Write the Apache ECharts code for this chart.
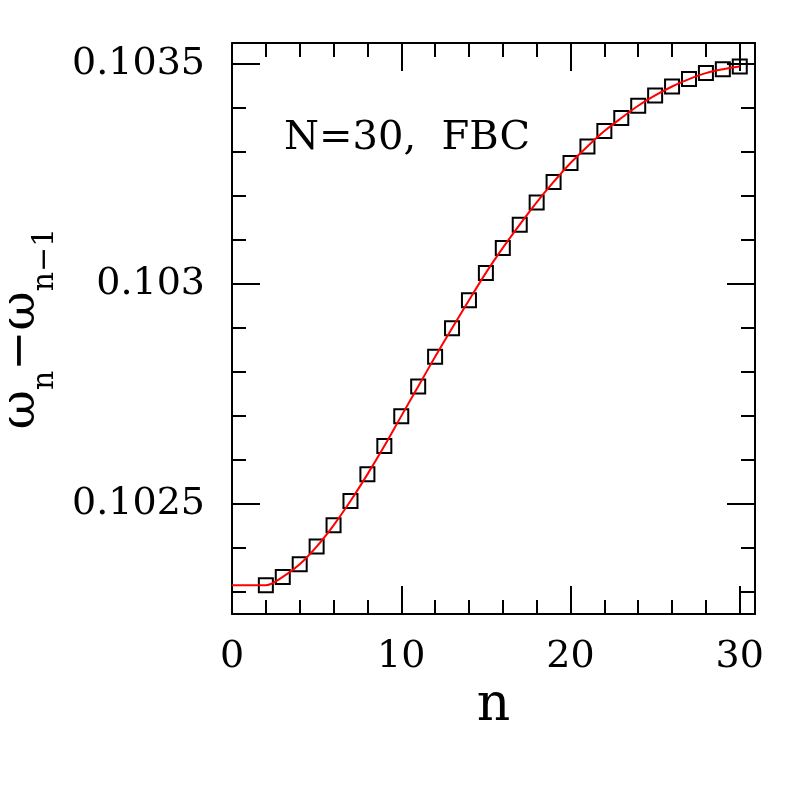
<!DOCTYPE html>
<html>
<head>
<meta charset="utf-8">
<script src="https://cdn.jsdelivr.net/npm/echarts@6/dist/echarts.min.js"></script>
<style>
html,body{margin:0;padding:0;background:#fff;}
#chart{width:797px;height:797px;}
</style>
</head>
<body>
<div id="chart"></div>
<script>
// ---- data ----
const nValues = [2,3,4,5,6,7,8,9,10,11,12,13,14,15,16,17,18,19,20,21,22,23,24,25,26,27,28,29,30];
const squareValues = [0.1023154,0.1023342,0.1023630,0.1024032,0.1024516,0.1025068,0.1025674,0.1026317,
  0.1026998,0.1027672,0.1028347,0.1028996,0.1029632,0.1030254,0.1030822,0.1031351,0.1031857,0.1032321,
  0.1032752,0.1033129,0.1033479,0.1033774,0.1034053,0.1034287,0.1034491,0.1034659,0.1034796,0.1034882,0.1034946];
const curveN = [0,1,2,3,4,5,6,7,8,9,10,11,12,13,14,15,16,17,18,19,20,21,22,23,24,25,26,27,28,29,30];
const curveValues = [0.1023154,0.1023154,0.1023154,0.1023342,0.1023630,0.1024032,0.1024516,0.1025068,0.1025674,0.1026317,
  0.1026998,0.1027672,0.1028347,0.1028996,0.1029632,0.1030254,0.1030822,0.1031351,0.1031857,0.1032321,
  0.1032752,0.1033129,0.1033479,0.1033774,0.1034053,0.1034287,0.1034491,0.1034659,0.1034796,0.1034882,0.1034946];
const xMajorTicks = [0,10,20,30];
const xMinorTicks = [2,4,6,8,12,14,16,18,22,24,26,28];
const yMajorTicks = [0.1025,0.103,0.1035];
const yMinorTicks = [0.1023,0.1024,0.1026,0.1027,0.1028,0.1029,0.1031,0.1032,0.1033,0.1034];
const annotation = 'N=30,  FBC';

const xMin = 0, xMax = 30.9, yMin = 0.10225, yMax = 0.103548;
const FONT = 'DejaVu Serif';
const BLACK = '#000';

function xAxisDef(pos, major, withLabels) {
  return {
    type: 'value', position: pos, min: xMin, max: xMax,
    axisLine: { show: major, onZero: false, lineStyle: { color: BLACK, width: 2 } },
    axisTick: { show: true, inside: true, length: major ? 28 : 14,
      customValues: major ? xMajorTicks.filter(v => v > 0) : xMinorTicks,
      lineStyle: { color: BLACK, width: 2 } },
    axisLabel: withLabels ? { show: true, customValues: xMajorTicks, margin: 24,
      fontFamily: FONT, fontSize: 38, color: '#000' } : { show: false },
    splitLine: { show: false }
  };
}
function yAxisDef(pos, major, withLabels) {
  return {
    type: 'value', position: pos, min: yMin, max: yMax,
    axisLine: { show: major, onZero: false, lineStyle: { color: BLACK, width: 2 } },
    axisTick: { show: true, inside: true, length: major ? 28 : 14,
      customValues: major ? yMajorTicks : yMinorTicks,
      lineStyle: { color: BLACK, width: 2 } },
    axisLabel: withLabels ? { show: true, customValues: yMajorTicks, margin: 27,
      fontFamily: FONT, fontSize: 38, color: '#000',
      formatter: v => String(+v.toFixed(4)) } : { show: false },
    splitLine: { show: false }
  };
}

const xAxes = [xAxisDef('bottom', true, true), xAxisDef('bottom', false, false),
               xAxisDef('top', true, false), xAxisDef('top', false, false)];
xAxes[0].name = 'n';
xAxes[0].nameLocation = 'middle';
xAxes[0].nameGap = 64;
xAxes[0].nameTextStyle = { fontFamily: FONT, fontSize: 52, color: '#000' };

const yAxes = [yAxisDef('left', true, true), yAxisDef('left', false, false),
               yAxisDef('right', true, false), yAxisDef('right', false, false)];
yAxes[0].name = '{w|ω}{s|n}{w|−ω}{s|n−1}';
yAxes[0].nameLocation = 'middle';
yAxes[0].nameRotate = 90;
yAxes[0].nameGap = 172;
yAxes[0].nameTextStyle = {
  fontFamily: FONT, color: '#000',
  rich: {
    w: { fontFamily: FONT, fontSize: 48, color: '#000', verticalAlign: 'bottom', padding: [0, 0, 14, 0] },
    s: { fontFamily: FONT, fontSize: 30, color: '#000', verticalAlign: 'bottom' }
  }
};

const chart = echarts.init(document.getElementById('chart'), null, { renderer: 'canvas' });
chart.setOption({
  animation: false,
  backgroundColor: '#fff',
  grid: { left: 232, top: 43, right: 42, bottom: 183, containLabel: false, outerBoundsMode: 'none' },
  xAxis: xAxes,
  yAxis: yAxes,
  graphic: [{
    type: 'text', left: 284, top: 119,
    style: { text: annotation, fontFamily: FONT, fontSize: 40, fill: '#000' }
  }],
  series: [
    {
      type: 'scatter', name: 'data', xAxisIndex: 0, yAxisIndex: 0,
      data: nValues.map((n, i) => [n, squareValues[i]]),
      symbol: 'rect', symbolSize: 14,
      itemStyle: { color: 'rgba(0,0,0,0)', borderColor: '#000', borderWidth: 2, opacity: 1 },
      z: 2
    },
    {
      type: 'line', name: 'fit', xAxisIndex: 0, yAxisIndex: 0,
      data: curveN.map((n, i) => [n, curveValues[i]]),
      showSymbol: false, symbol: 'none', smooth: 0.3,
      lineStyle: { color: '#ff0000', width: 2 },
      z: 3
    }
  ]
});
</script>
</body>
</html>
